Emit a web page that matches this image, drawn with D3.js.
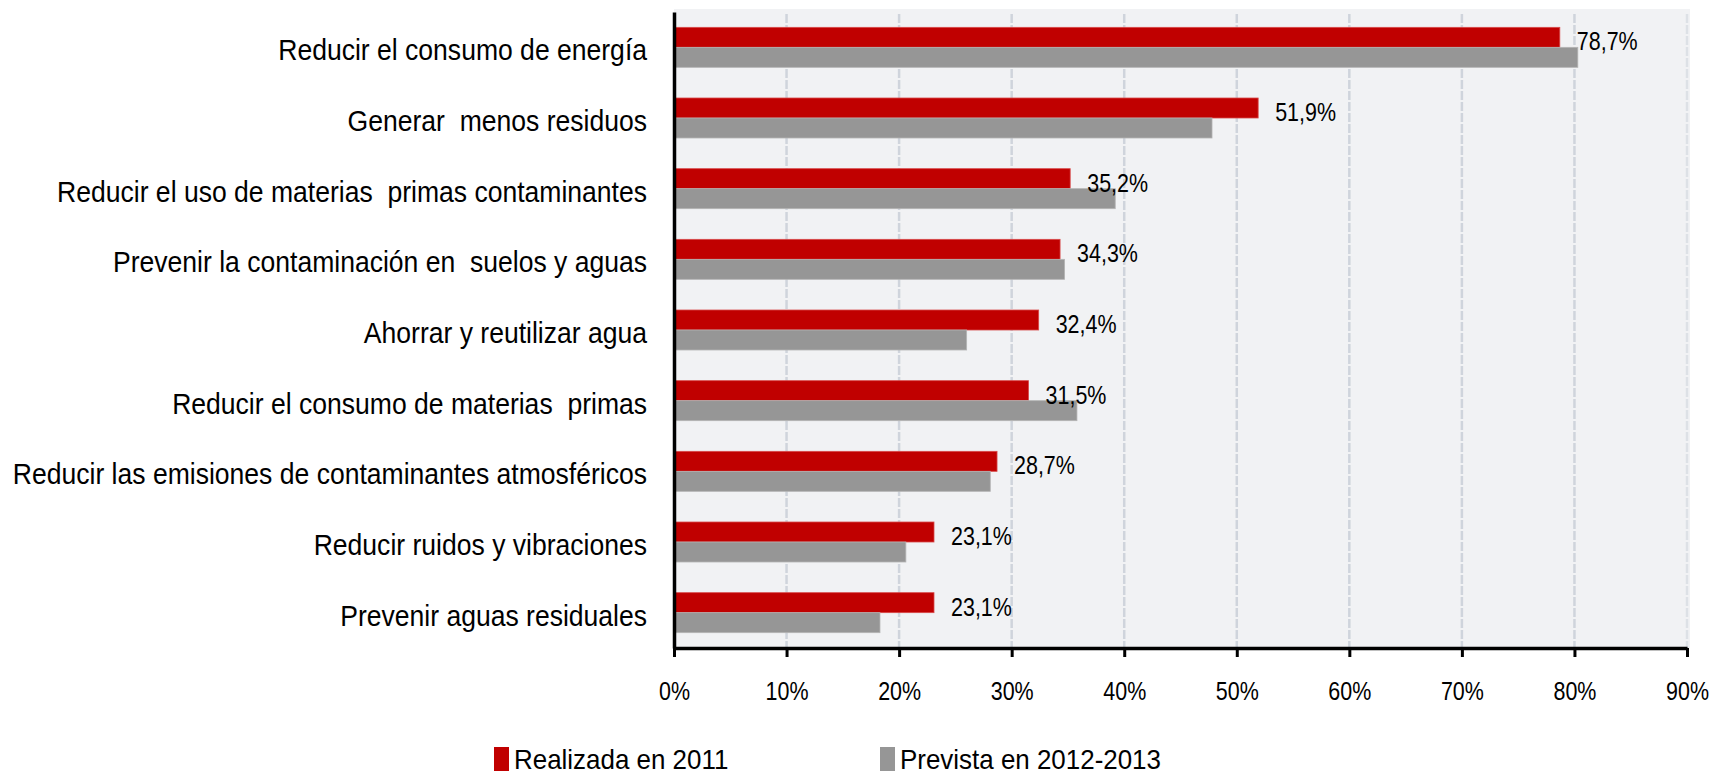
<!DOCTYPE html>
<html>
<head>
<meta charset="utf-8">
<script src="https://cdn.jsdelivr.net/npm/d3@7"></script>
<style>
  body { margin: 0; background: #fff; }
  svg text { font-family: "Liberation Sans", Arial, sans-serif; fill: #000; }
</style>
</head>
<body>
<svg width="1724" height="774"></svg>
<script>
var categories = [
  "Reducir el consumo de energía",
  "Generar  menos residuos",
  "Reducir el uso de materias  primas contaminantes",
  "Prevenir la contaminación en  suelos y aguas",
  "Ahorrar y reutilizar agua",
  "Reducir el consumo de materias  primas",
  "Reducir las emisiones de contaminantes atmosféricos",
  "Reducir ruidos y vibraciones",
  "Prevenir aguas residuales"
];
var realizada = [78.7, 51.9, 35.2, 34.3, 32.4, 31.5, 28.7, 23.1, 23.1];
var prevista = [80.3, 47.8, 39.2, 34.7, 26.0, 35.8, 28.1, 20.6, 18.3];
var xTicks = [0, 10, 20, 30, 40, 50, 60, 70, 80, 90];
var seriesNames = ["Realizada en 2011", "Prevista en 2012-2013"];

var red = "#c00000", grey = "#969696";
var pArea = [674, 12, 1687, 648];

var svg = d3.select("svg");
var g = svg.append("g");

var xScale = d3.scaleLinear().domain([0, 90]).range([pArea[0], pArea[2]]);
var yScale = d3.scaleBand().domain(categories).range([pArea[1], pArea[3]]);
var barH = 20;

// squeeze text horizontally, the original uses a narrow face
function narrow(sel, k) {
  sel.each(function() {
    var len = this.getComputedTextLength();
    d3.select(this).attr("textLength", len * k).attr("lengthAdjust", "spacingAndGlyphs");
  });
}

// plot background
g.append("rect")
  .attr("x", pArea[0])
  .attr("y", 9)
  .attr("width", xScale(90) - pArea[0] + 3)
  .attr("height", pArea[3] - 9)
  .attr("fill", "#f1f2f4");

// gridlines
g.selectAll(".grid")
  .data(xTicks.slice(1))
  .enter().append("line")
  .attr("x1", d => xScale(d))
  .attr("x2", d => xScale(d))
  .attr("y1", 14)
  .attr("y2", pArea[3])
  .attr("stroke", d => d == 90 ? "#dde1e6" : "#cfd4dc")
  .attr("stroke-width", 2.5)
  .attr("stroke-dasharray", "9,2");

// bars
g.selectAll(".bar-r")
  .data(categories)
  .enter().append("rect")
  .attr("x", xScale(0))
  .attr("y", d => yScale(d) + yScale.bandwidth() / 2 - barH)
  .attr("width", (d, i) => xScale(realizada[i]) - xScale(0))
  .attr("height", barH)
  .attr("fill", red)
  .attr("stroke", "#d84a4a")
  .attr("stroke-width", 0.8);

g.selectAll(".bar-p")
  .data(categories)
  .enter().append("rect")
  .attr("x", xScale(0))
  .attr("y", d => yScale(d) + yScale.bandwidth() / 2)
  .attr("width", (d, i) => xScale(prevista[i]) - xScale(0))
  .attr("height", barH)
  .attr("fill", grey)
  .attr("stroke", "#b4b4b4")
  .attr("stroke-width", 0.8);

// value labels
var vals = g.selectAll(".val")
  .data(categories)
  .enter().append("text")
  .attr("x", (d, i) => xScale(realizada[i]) + 17)
  .attr("y", d => yScale(d) + yScale.bandwidth() / 2 + 3)
  .attr("font-size", 26.5)
  .text((d, i) => d3.format(".1f")(realizada[i]).replace(".", ",") + "%");
narrow(vals, 0.81);

// x-axis
var xAxis = g.append("g")
  .attr("transform", `translate(0,${pArea[3]})`)
  .call(d3.axisBottom(xScale).tickValues(xTicks).tickFormat(d => d + "%").tickSizeInner(9).tickSizeOuter(0).tickPadding(24));
xAxis.select(".domain").attr("stroke", "#000").attr("stroke-width", 3.5);
xAxis.selectAll(".tick line").attr("stroke", "#000").attr("stroke-width", 3);
xAxis.selectAll("text").attr("font-size", 26.5).attr("font-family", null);
narrow(xAxis.selectAll("text"), 0.81);

// y-axis
var yAxis = g.append("g")
  .attr("transform", `translate(${pArea[0]},0)`)
  .call(d3.axisLeft(yScale).tickSize(0).tickPadding(27));
yAxis.select(".domain").attr("stroke", "#000").attr("stroke-width", 3.5);
yAxis.selectAll("text")
  .attr("font-size", 29)
  .attr("font-family", null)
  .attr("dy", "0.45em")
  .style("white-space", "pre");
narrow(yAxis.selectAll("text"), 0.915);

// legend
var legend = g.selectAll(".legend")
  .data(seriesNames)
  .enter().append("g")
  .attr("transform", (d, i) => `translate(${[494, 880][i]},747)`);
legend.append("rect")
  .attr("width", 15)
  .attr("height", 24)
  .attr("fill", (d, i) => [red, grey][i]);
var legText = legend.append("text")
  .attr("x", 20)
  .attr("y", 22)
  .attr("font-size", 28.5)
  .text(d => d);
narrow(legText, 0.91);
</script>
</body>
</html>
